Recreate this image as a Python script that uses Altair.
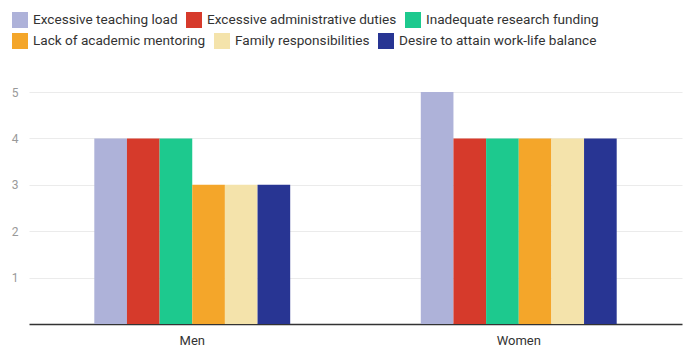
import altair as alt
import pandas as pd

groups = ["Men", "Women"]
series = [
    "Excessive teaching load",
    "Excessive administrative duties",
    "Inadequate research funding",
    "Lack of academic mentoring",
    "Family responsibilities",
    "Desire to attain work-life balance",
]
men_values = [4, 4, 4, 3, 3, 3]
women_values = [5, 4, 4, 4, 4, 4]
colors = ["#aeb2d9", "#d63a2b", "#1dc98e", "#f4a62a", "#f4e3ab", "#283593"]

rows = []
for g, vals in zip(groups, [men_values, women_values]):
    for s, v in zip(series, vals):
        rows.append({"group": g, "series": s, "value": v})
df = pd.DataFrame(rows)

x_enc = alt.X("group:N", sort=groups, title=None,
              scale=alt.Scale(paddingInner=0.4, paddingOuter=0.2),
              axis=alt.Axis(labelAngle=0, labelColor="#333333", labelFontSize=13,
                            labelPadding=10, ticks=False, domainColor="#333333",
                            domainWidth=1.5, labelFont="Roboto"))
xoff_enc = alt.XOffset("series:N", sort=series,
                       scale=alt.Scale(domain=series, paddingInner=0, paddingOuter=0))
y_enc = alt.Y("value:Q", title=None,
              scale=alt.Scale(domain=[0, 5], nice=False),
              axis=alt.Axis(values=[1, 2, 3, 4, 5], domain=False, ticks=False,
                            labelColor="#999999", labelFontSize=12, labelPadding=11,
                            gridColor="#ebebeb", labelFont="Roboto")),


def legend(ly):
    return alt.Legend(title=None, orient="none", legendX=-17, legendY=ly,
                      direction="horizontal",
                      symbolType="square", symbolSize=256,
                      symbolStrokeWidth=0, symbolOpacity=1,
                      labelFontSize=13.6, labelColor="#333333",
                      labelFont="Roboto", labelOffset=5,
                      columnPadding=8, labelLimit=300)


y_enc = y_enc[0]
base = alt.Chart(df)
layer1 = base.transform_filter(
    alt.FieldOneOfPredicate(field="series", oneOf=series[:3])
).mark_bar().encode(
    x=x_enc, xOffset=xoff_enc, y=y_enc,
    color=alt.Color("series:N", sort=series[:3],
                    scale=alt.Scale(domain=series[:3], range=colors[:3]),
                    legend=legend(-80)),
)
layer2 = base.transform_filter(
    alt.FieldOneOfPredicate(field="series", oneOf=series[3:])
).mark_bar().encode(
    x=x_enc, xOffset=xoff_enc, y=y_enc,
    color=alt.Color("series:N", sort=series[3:],
                    scale=alt.Scale(domain=series[3:], range=colors[3:]),
                    legend=legend(-59)),
)

chart = alt.layer(layer1, layer2).resolve_scale(color="independent").properties(
    width=653, height=232,
    autosize=alt.AutoSizeParams(type="none"),
    padding={"left": 29, "top": 92, "right": 1, "bottom": 25},
).configure_view(stroke=None)

chart.save("out.html", embed_options={"renderer": "svg", "actions": False})
